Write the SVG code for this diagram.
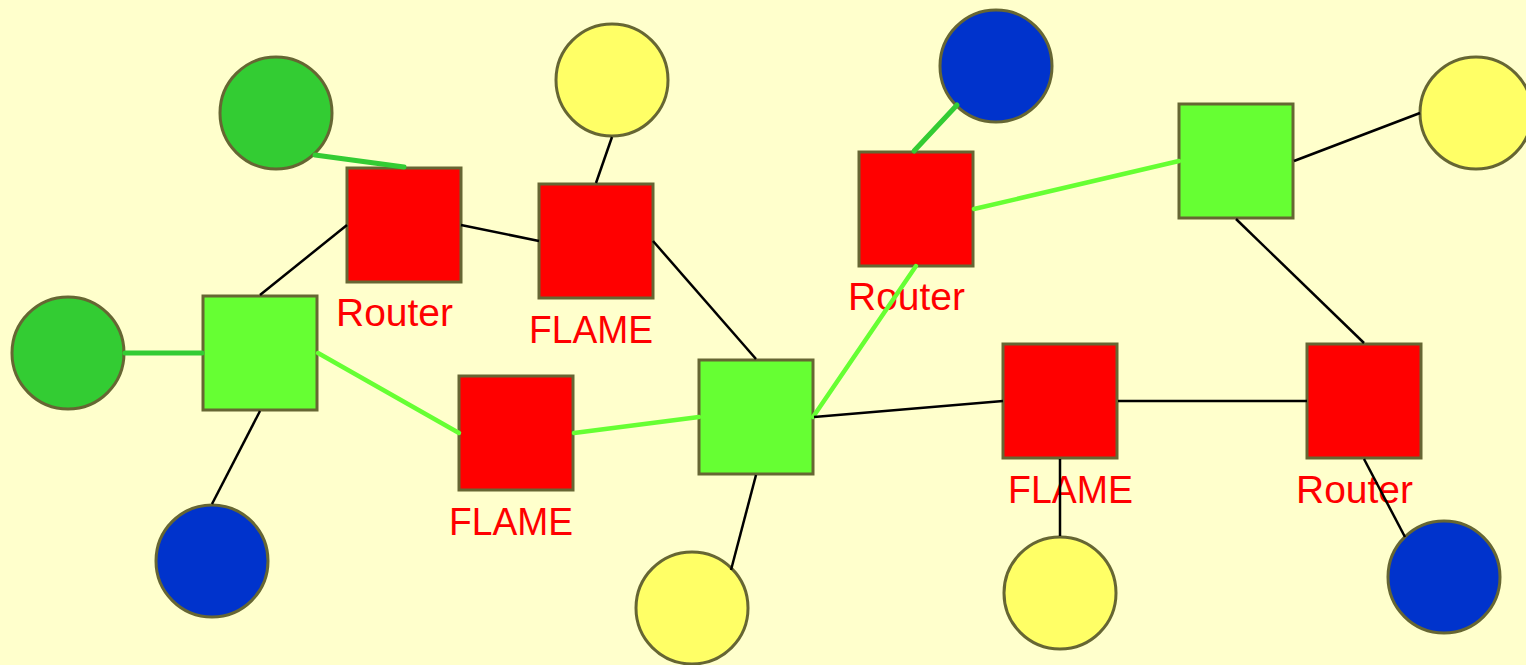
<svg xmlns="http://www.w3.org/2000/svg" width="1526" height="665" viewBox="0 0 1526 665">
<style>
.sq{stroke:#666633;stroke-width:3}
.ci{stroke:#666633;stroke-width:3}
.red{fill:#ff0000}
.lg{fill:#66ff33}
.dg{fill:#33cc33}
.bl{fill:#0033cc}
.ye{fill:#ffff66}
.lbl{font-family:"Liberation Sans","DejaVu Sans",sans-serif;font-size:38px;fill:#ff0000}
.k{stroke:#000;stroke-width:2.5;fill:none}
.g1{stroke:#33cc33;stroke-width:5;stroke-linecap:round;fill:none}
.g2{stroke:#66ff33;stroke-width:4.5;stroke-linecap:round;fill:none}
</style>
<rect width="1526" height="665" fill="#ffffcc"/>
<g id="router1"><rect class="sq red" x="347" y="168" width="114" height="114"/><text class="lbl" x="336" y="326" textLength="117" lengthAdjust="spacingAndGlyphs">Router</text></g>
<g id="flame1"><rect class="sq red" x="539" y="184" width="114" height="114"/><text class="lbl" x="529" y="343" textLength="124" lengthAdjust="spacingAndGlyphs">FLAME</text></g>
<g id="switch1"><rect class="sq lg" x="203" y="296" width="114" height="114"/></g>
<g id="flame2"><rect class="sq red" x="459" y="376" width="114" height="114"/><text class="lbl" x="449" y="535" textLength="124" lengthAdjust="spacingAndGlyphs">FLAME</text></g>
<g id="switch2"><rect class="sq lg" x="699" y="360" width="114" height="114"/></g>
<g id="router2"><rect class="sq red" x="859" y="152" width="114" height="114"/><text class="lbl" x="848" y="310" textLength="117" lengthAdjust="spacingAndGlyphs">Router</text></g>
<g id="switch3"><rect class="sq lg" x="1179" y="104" width="114" height="114"/></g>
<g id="flame3"><rect class="sq red" x="1003" y="344" width="114" height="114"/><text class="lbl" x="1008" y="503" textLength="125" lengthAdjust="spacingAndGlyphs">FLAME</text></g>
<g id="router3"><rect class="sq red" x="1307" y="344" width="114" height="114"/><text class="lbl" x="1296" y="503" textLength="117" lengthAdjust="spacingAndGlyphs">Router</text></g>
<g id="host-green1"><circle class="ci dg" cx="276" cy="113" r="56"/></g>
<g id="host-yellow1"><circle class="ci ye" cx="612" cy="80" r="56"/></g>
<g id="host-green2"><circle class="ci dg" cx="68" cy="353" r="56"/></g>
<g id="host-blue1"><circle class="ci bl" cx="212" cy="561" r="56"/></g>
<g id="host-yellow2"><circle class="ci ye" cx="692" cy="608" r="56"/></g>
<g id="host-blue2"><circle class="ci bl" cx="996" cy="66" r="56"/></g>
<g id="host-yellow3"><circle class="ci ye" cx="1476" cy="113" r="56"/></g>
<g id="host-yellow4"><circle class="ci ye" cx="1060" cy="593" r="56"/></g>
<g id="host-blue3"><circle class="ci bl" cx="1444" cy="577" r="56"/></g>
<g id="connectors">
<line class="g1" x1="315" y1="155" x2="404" y2="167"/>
<line class="k" x1="347" y1="225" x2="260" y2="295"/>
<line class="k" x1="461" y1="225" x2="539" y2="241"/>
<line class="k" x1="612" y1="137" x2="596" y2="183"/>
<line class="k" x1="653" y1="241" x2="756" y2="359"/>
<line class="g1" x1="125" y1="353" x2="202" y2="353"/>
<line class="g2" x1="318" y1="353" x2="459" y2="433"/>
<line class="k" x1="260" y1="411" x2="212" y2="504"/>
<line class="g2" x1="574" y1="433" x2="699" y2="417"/>
<line class="g2" x1="813" y1="417" x2="916" y2="266"/>
<line class="k" x1="756" y1="475" x2="731" y2="570"/>
<line class="k" x1="814" y1="417" x2="1003" y2="401"/>
<line class="k" x1="1060" y1="459" x2="1060" y2="536"/>
<line class="k" x1="1118" y1="401" x2="1307" y2="401"/>
<line class="k" x1="1364" y1="343" x2="1236" y2="219"/>
<line class="k" x1="1364" y1="459" x2="1405" y2="537"/>
<line class="g1" x1="914" y1="151" x2="957" y2="105"/>
<line class="g2" x1="974" y1="209" x2="1179" y2="161"/>
<line class="k" x1="1294" y1="161" x2="1420" y2="113"/>
</g>
</svg>
